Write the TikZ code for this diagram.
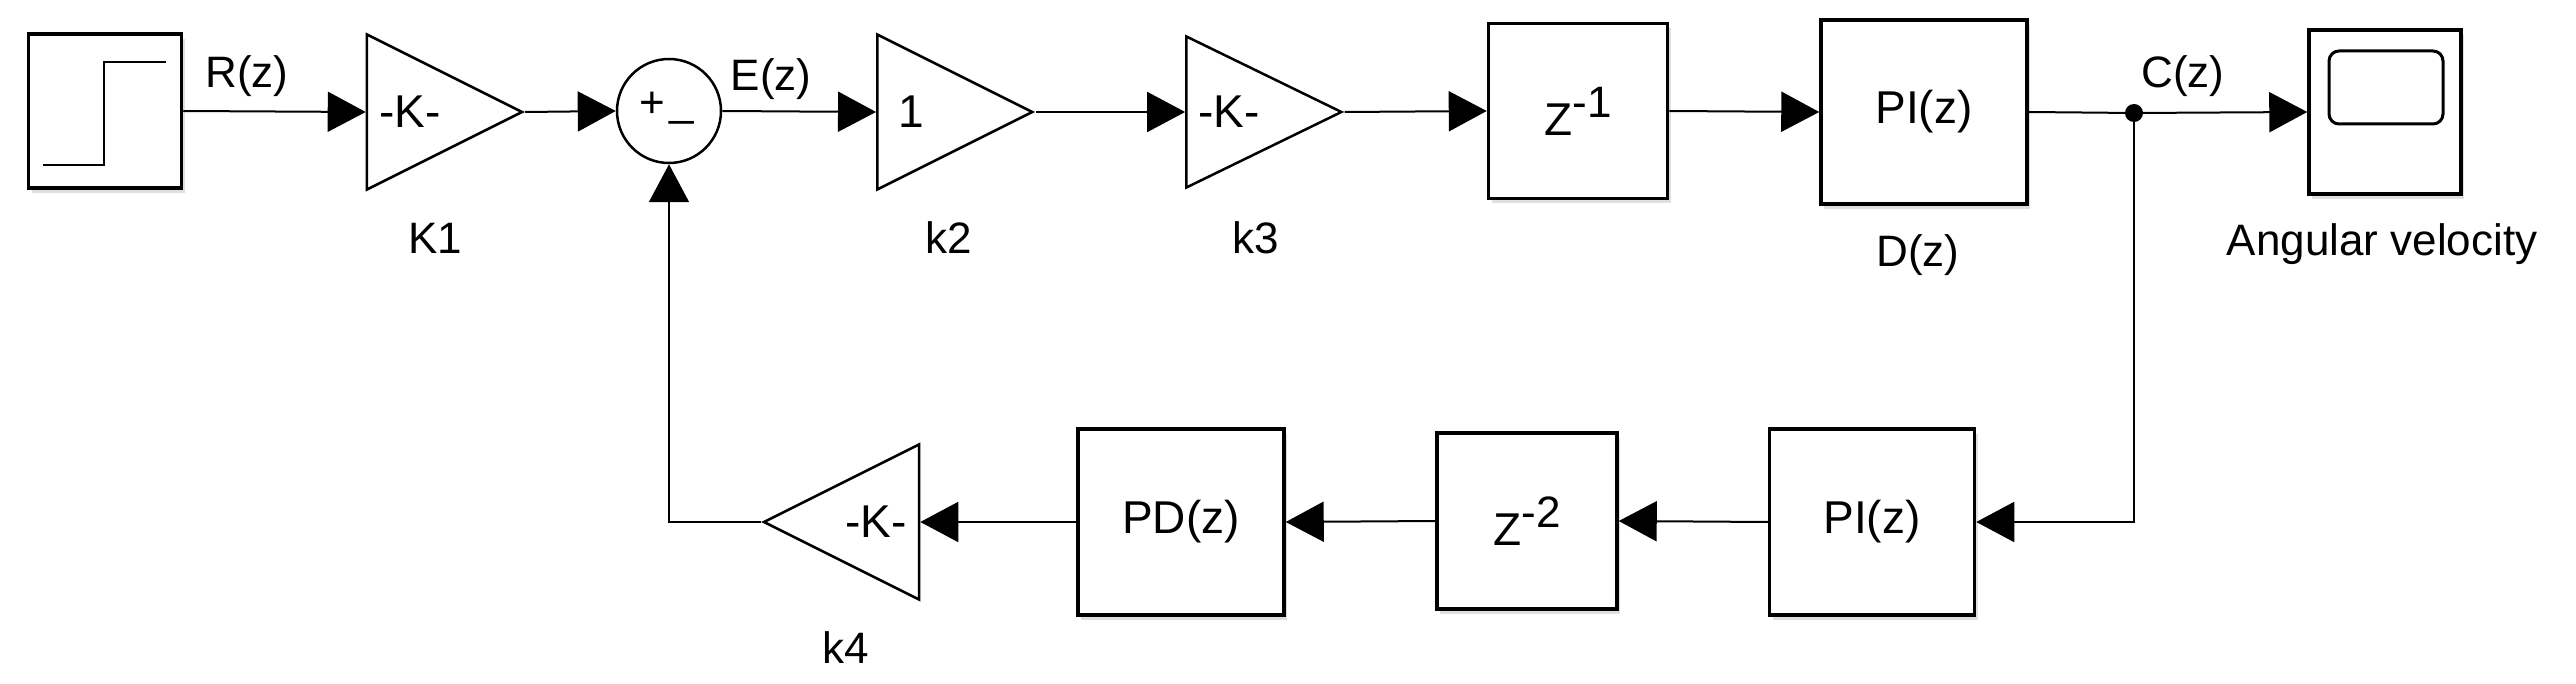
\documentclass[tikz,border=0pt]{standalone}
\usepackage{fontspec}
\setmainfont{Liberation Sans}
\usetikzlibrary
  {
    arrows.meta,      % triangle arrow heads
    shapes.geometric, % gain triangles
    shadows,          % block shadows
    positioning,
  }

\tikzset{
  block/.style={draw, line width=3.5pt, fill=white, inner sep=0pt,
    drop shadow={opacity=0.25, shadow xshift=3pt, shadow yshift=-5pt},
    font=\fontsize{46}{46}\selectfont},
  gain/.style={draw, line width=2.5pt, fill=white, isosceles triangle,
    isosceles triangle stretches, inner sep=0pt,
    minimum width=155pt, minimum height=155pt,
    font=\fontsize{46}{46}\selectfont},
  tag/.style={font=\fontsize{44}{44}\selectfont, inner sep=0pt},
  wire/.style={line width=2pt, -{Triangle[length=38pt,width=40pt]}},
  line/.style={line width=2pt},
}

\newcommand{\zinv}[1]{Z\raisebox{18pt}{\fontsize{44}{44}\selectfont -#1}}

\begin{document}
\begin{tikzpicture}[x=1pt,y=-1pt]
    \useasboundingbox (0,0) rectangle (2576,684);

    % forward path
    \node (step) [block, minimum width=153pt, minimum height=154pt] at (105,111) {};
    \draw [line width=2.5pt] (43,165) -- (104,165) -- (104,62) -- (166,62);

    \node (K1) [gain] at (421,112) {-K-\hspace*{22pt}};
    \node (sum) [draw, circle, line width=2.5pt, minimum size=104pt, inner sep=0pt] at (669,111) {};
    \node (plus) [tag] at (652,105) {+};
    \node (minus) [tag] at (682,120) {\_};
    \node (k2) [gain] at (926,112) {1\hspace*{30pt}};
    \node (k3) [gain, minimum width=151pt] at (1240,112) {-K-\hspace*{22pt}};
    \node (zd1) [block, minimum width=179pt, minimum height=175pt] at (1578,111) {\zinv{1}};
    \node (piD) [block, minimum width=206pt, minimum height=184pt] at (1924,112) {PI(z)};
    \coordinate (split) at (2134,113);
    \node (scope) [block, minimum width=152pt, minimum height=164pt] at (2385,112) {};
    \draw [line width=3pt, rounded corners=10pt] (2329,51) rectangle (2443,124);

    % feedback path
    \node (piF) [block, minimum width=205pt, minimum height=186pt] at (1872,522) {PI(z)};
    \node (zd2) [block, minimum width=180pt, minimum height=176pt] at (1527,521) {\zinv{2}};
    \node (pd) [block, minimum width=206pt, minimum height=186pt] at (1181,522) {PD(z)};
    \node (k4) [gain, shape border rotate=180] at (865,522) {\hspace*{22pt}-K-};

    % labels
    \node [tag] at (247,76) {R(z)};
    \node [tag] at (771,79) {E(z)};
    \node [tag] at (2183,76) {C(z)};
    \node [tag] at (435,238) {K1};
    \node [tag] at (949,238) {k2};
    \node [tag] at (1256,238) {k3};
    \node [tag] at (1918,255) {D(z)};
    \node [tag] at (2382,244) {Angular velocity};
    \node [tag] at (846,648) {k4};

    % connectors
    \draw [wire] (step.east) -- (K1.lower side);
    \draw [wire] (K1.apex) -- (sum.west);
    \draw [wire] (sum.east) -- (k2.lower side);
    \draw [wire] (k2.apex) -- (k3.lower side);
    \draw [wire] (k3.apex) -- (zd1.west);
    \draw [wire] (zd1.east) -- (piD.west);
    \draw [line] (piD.east) -- (split);
    \draw [wire] (split) -- (scope.west);
    \fill (split) circle (9pt);
    \draw [wire] (split) |- (piF.east);
    \draw [wire] (piF.west) -- (zd2.east);
    \draw [wire] (zd2.west) -- (pd.east);
    \draw [wire] (pd.west) -- (k4.lower side);
    \draw [wire] (k4.apex) -| (sum.south);
  \end{tikzpicture}
\end{document}
